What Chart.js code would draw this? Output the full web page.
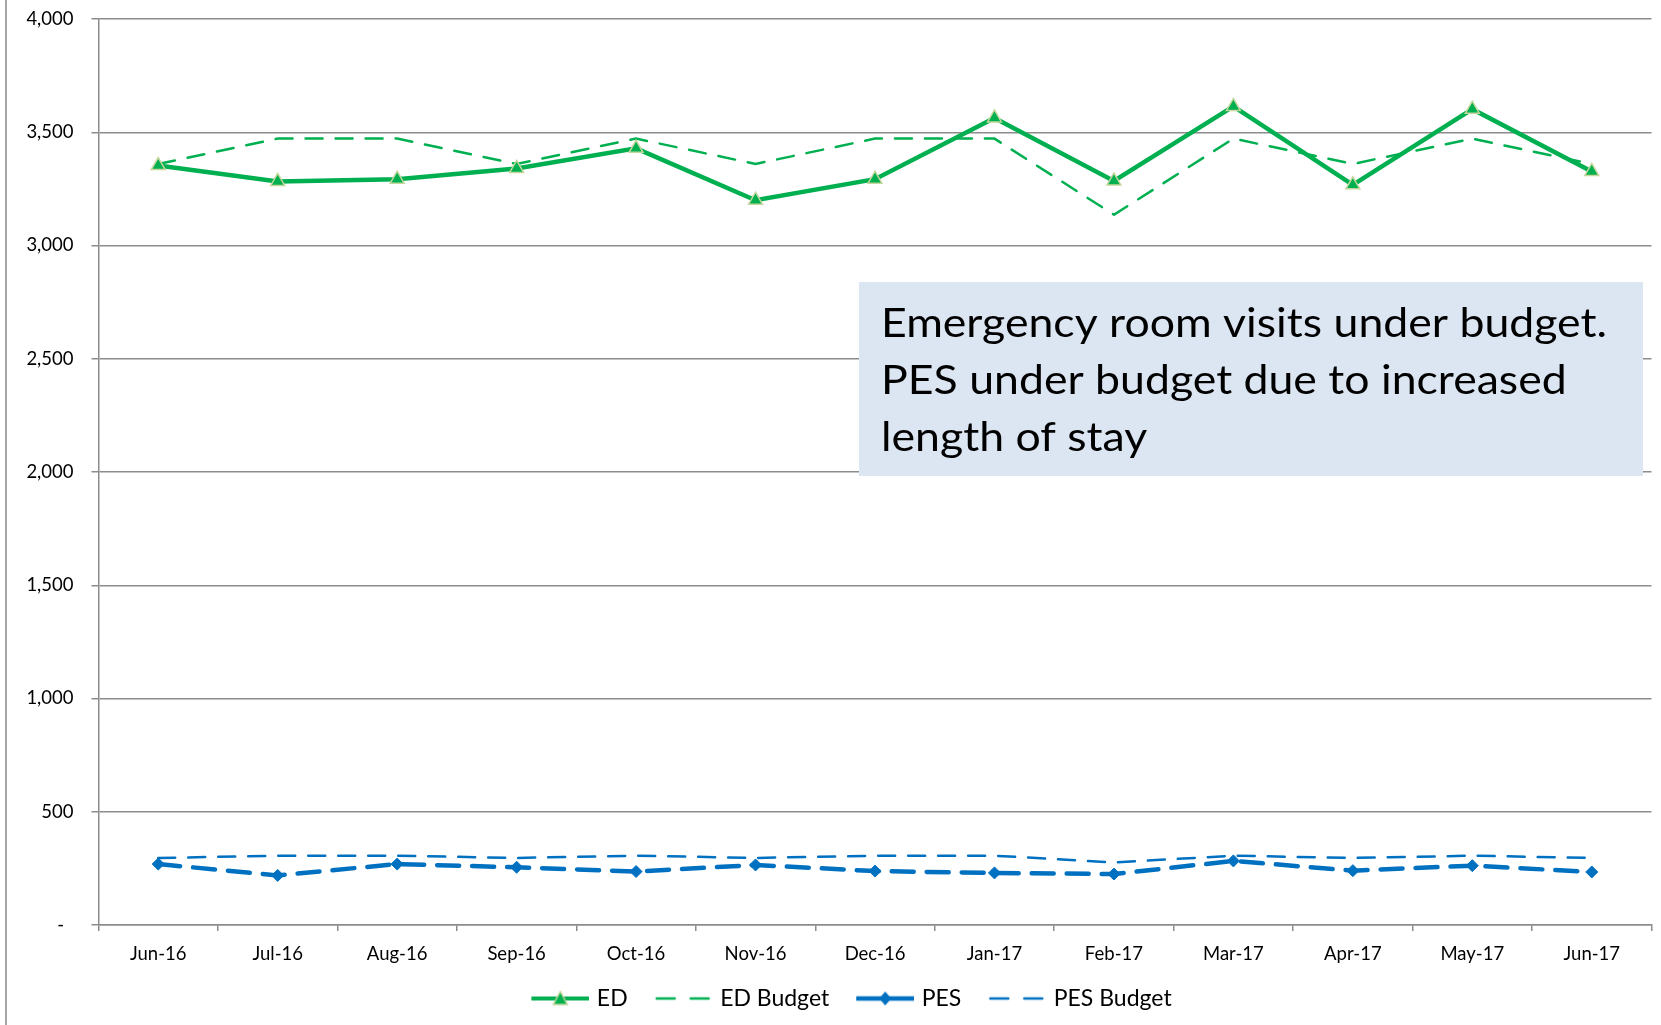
<!DOCTYPE html>
<html>
<head>
<meta charset="utf-8">
<script src="https://cdn.jsdelivr.net/npm/chart.js@4.4.0/dist/chart.umd.min.js"></script>
<style>
  body { margin: 0; background: #fff; }
  #wrap { width: 1661px; height: 1025px; position: relative; }
</style>
</head>
<body>
<div id="wrap"><canvas id="chart-visitas"></canvas></div>
<script>
var meses = ["Jun-16", "Jul-16", "Aug-16", "Sep-16", "Oct-16", "Nov-16", "Dec-16",
  "Jan-17", "Feb-17", "Mar-17", "Apr-17", "May-17", "Jun-17"];
var edVisitas = [3353, 3283, 3293, 3340, 3429, 3200, 3293, 3563, 3285, 3614, 3268, 3602, 3327];
var edOrcamento = [3360, 3472, 3472, 3360, 3472, 3360, 3472, 3472, 3136, 3472, 3360, 3472, 3360];
var pesVisitas = [269, 219, 269, 255, 236, 265, 238, 230, 225, 283, 240, 262, 234];
var pesOrcamento = [296, 306, 306, 296, 306, 296, 306, 306, 276, 306, 296, 306, 296];
var yTicks = [0, 500, 1000, 1500, 2000, 2500, 3000, 3500, 4000];
var notaLinhas = ["Emergency room visits under budget.", "PES under budget due to increased", "length of stay"];

var VERDE = "#00b050";
var AZUL = "#0070c0";
var GRADE = "#8c8c8c";

// legend swatch: line + marker like Excel, small blank space on the left
function amostra(cor, largura, tracejado, marcador) {
  var c = document.createElement("canvas");
  c.width = 67;
  c.height = 18;
  var g = c.getContext("2d");
  var x0 = 9;
  g.strokeStyle = cor;
  g.lineWidth = largura;
  g.lineCap = tracejado ? "round" : "butt";
  if (tracejado) g.setLineDash(tracejado);
  g.beginPath();
  g.moveTo(tracejado ? x0 + 2 : x0, 9);
  g.lineTo(tracejado ? x0 + 56 : x0 + 58, 9);
  g.stroke();
  g.setLineDash([]);
  var cx = x0 + 29;
  if (marcador === "triangle") {
    g.fillStyle = VERDE;
    g.strokeStyle = "#c3d69b";
    g.lineWidth = 1.5;
    g.beginPath();
    g.moveTo(cx, 2);
    g.lineTo(cx + 7, 15);
    g.lineTo(cx - 7, 15);
    g.closePath();
    g.fill();
    g.stroke();
  } else if (marcador === "diamond") {
    g.fillStyle = cor;
    g.beginPath();
    g.moveTo(cx, 2);
    g.lineTo(cx + 6, 9);
    g.lineTo(cx, 16);
    g.lineTo(cx - 6, 9);
    g.closePath();
    g.fill();
  }
  return c;
}

var amostras = [
  amostra(VERDE, 4, null, "triangle"),
  amostra(VERDE, 2.5, [18, 16], null),
  amostra(AZUL, 4.5, null, "diamond"),
  amostra(AZUL, 2.5, [18, 16], null)
];

var fundo = {
  id: "fundo",
  beforeDraw: function (chart) {
    var ctx = chart.ctx;
    ctx.save();
    ctx.fillStyle = "#fff";
    ctx.fillRect(0, 0, chart.width, chart.height);
    ctx.strokeStyle = "#a6a6a6";
    ctx.lineWidth = 2;
    ctx.beginPath();
    ctx.moveTo(6, 0);
    ctx.lineTo(6, chart.height);
    ctx.stroke();
    ctx.restore();
  },
  afterLayout: function (chart) {
    // Excel centres the legend a bit to the right
    chart.legend.left += 20;
    chart.legend.right += 20;
  }
};

var caixaTexto = {
  id: "caixaTexto",
  afterDatasetsDraw: function (chart) {
    var ctx = chart.ctx;
    ctx.save();
    ctx.fillStyle = "#dce6f2";
    ctx.fillRect(859, 282, 784, 194);
    ctx.fillStyle = "#000";
    ctx.font = "41px Lato";
    ctx.textBaseline = "alphabetic";
    var esc = 726 / ctx.measureText(notaLinhas[0]).width;
    notaLinhas.forEach(function (linha, i) {
      ctx.save();
      ctx.translate(881, 337 + i * 57.2);
      ctx.scale(esc, 1);
      ctx.fillText(linha, 0, 0);
      ctx.restore();
    });
    ctx.restore();
  }
};

document.addEventListener("DOMContentLoaded", function () {
  var ctx = document.getElementById("chart-visitas").getContext("2d");

  var chartVisitas = new Chart(ctx, {
    type: "line",
    data: {
      labels: meses,
      datasets: [
        {
          label: "ED",
          data: edVisitas,
          borderColor: VERDE,
          borderWidth: 4.5,
          pointStyle: "triangle",
          pointRadius: 8,
          pointBackgroundColor: VERDE,
          pointBorderColor: "#c3d69b",
          pointBorderWidth: 1.5,
          tension: 0
        },
        {
          label: "ED Budget",
          data: edOrcamento,
          borderColor: VERDE,
          borderWidth: 2.5,
          borderDash: [17, 13],
          borderCapStyle: "round",
          pointRadius: 0,
          tension: 0
        },
        {
          label: "PES",
          data: pesVisitas,
          borderColor: AZUL,
          borderWidth: 4.5,
          borderDash: [22, 13],
          borderCapStyle: "round",
          pointStyle: "rectRot",
          pointRadius: 6,
          pointBackgroundColor: AZUL,
          pointBorderColor: AZUL,
          pointBorderWidth: 1,
          tension: 0
        },
        {
          label: "PES Budget",
          data: pesOrcamento,
          borderColor: AZUL,
          borderWidth: 2.5,
          borderDash: [17, 13],
          borderCapStyle: "round",
          pointRadius: 0,
          tension: 0
        }
      ]
    },
    options: {
      responsive: true,
      maintainAspectRatio: false,
      animation: false,
      layout: { padding: { left: 0, right: 3, top: 19, bottom: 5 } },
      plugins: {
        tooltip: { enabled: false },
        legend: {
          position: "bottom",
          labels: {
            usePointStyle: true,
            pointStyleWidth: 59,
            padding: 22,
            color: "#000",
            font: { family: "Lato", size: 23 },
            generateLabels: function (chart) {
              return chart.data.datasets.map(function (ds, i) {
                return {
                  text: ds.label,
                  pointStyle: amostras[i],
                  datasetIndex: i,
                  hidden: false,
                  lineWidth: 0,
                  strokeStyle: "rgba(0,0,0,0)",
                  fillStyle: "rgba(0,0,0,0)"
                };
              });
            }
          }
        }
      },
      scales: {
        x: {
          offset: true,
          grid: { offset: true, drawOnChartArea: false, drawTicks: true, tickLength: 6, color: GRADE, lineWidth: 1.5 },
          border: { color: GRADE, width: 1.5 },
          ticks: { color: "#000", font: { family: "Lato", size: 18.5 }, padding: 12, maxRotation: 0, autoSkip: false },
          afterFit: function (s) { s.height = 40; }
        },
        y: {
          min: 0,
          max: 4000,
          afterBuildTicks: function (s) {
            s.ticks = yTicks.map(function (v) { return { value: v }; });
          },
          grid: { color: GRADE, lineWidth: 1.5, tickLength: 7 },
          border: { color: GRADE, width: 1.5 },
          ticks: {
            color: "#000",
            font: { family: "Lato", size: 18.5 },
            padding: 18,
            callback: function (v) { return v === 0 ? "-  " : v.toLocaleString("en-US"); }
          },
          afterFit: function (s) {
            s.width = 98.5;
            s.paddingTop = 0;
            s.paddingBottom = 0;
          }
        }
      }
    },
    plugins: [fundo, caixaTexto]
  });
});
</script>
</body>
</html>
